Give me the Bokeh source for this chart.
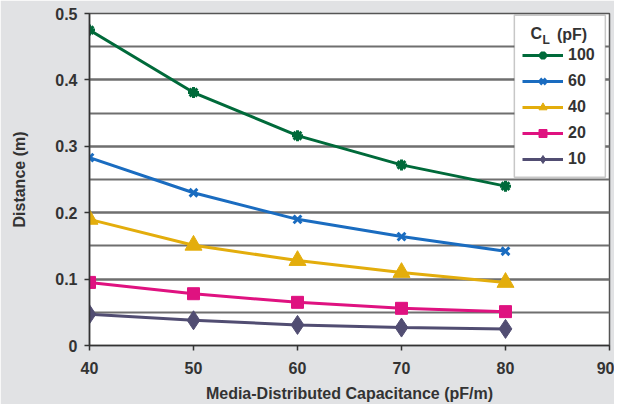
from bokeh.plotting import figure
from bokeh.models import Legend, LegendItem, BoxAnnotation, Range1d, FixedTicker
from bokeh.core.properties import value
from bokeh.embed import file_html
from bokeh.resources import INLINE

# Data
capacitance = [40, 50, 60, 70, 80]
series_labels = ["100", "60", "40", "20", "10"]
dist_100 = [0.475, 0.381, 0.316, 0.272, 0.240]
dist_60 = [0.283, 0.230, 0.190, 0.164, 0.142]
dist_40 = [0.190, 0.151, 0.128, 0.110, 0.095]
dist_20 = [0.095, 0.078, 0.065, 0.056, 0.051]
dist_10 = [0.047, 0.038, 0.031, 0.027, 0.025]
x_ticks = [40, 50, 60, 70, 80, 90]
y_ticks = [0, 0.1, 0.2, 0.3, 0.4, 0.5]
y_grid = [0, 0.05, 0.1, 0.15, 0.2, 0.25, 0.3, 0.35, 0.4, 0.45, 0.5]

FONT = "Liberation Sans"
TXT = "#333333"
BG = "#e1e2e4"

p = figure(width=614, height=404, output_backend="svg", toolbar_location=None,
           x_range=Range1d(40, 90), y_range=Range1d(0, 0.5),
           min_border_left=89, min_border_right=5, min_border_top=13, min_border_bottom=59)
p.background_fill_color = "white"
p.border_fill_color = BG
p.outline_line_color = "#555555"
p.outline_line_width = 1.5

p.xaxis.ticker = FixedTicker(ticks=x_ticks)
p.yaxis.ticker = FixedTicker(ticks=y_ticks, minor_ticks=y_grid)
p.xgrid.grid_line_color = None
p.ygrid.grid_line_color = "#6f6f6f"
p.ygrid.grid_line_width = 2
p.ygrid.minor_grid_line_color = "#6f6f6f"
p.ygrid.minor_grid_line_width = 2

for ax in (p.xaxis, p.yaxis):
    ax.axis_line_color = "#333333"
    ax.axis_line_width = 1.5
    ax.major_tick_line_color = "#333333"
    ax.major_tick_line_width = 1.5
    ax.major_tick_out = 5
    ax.major_tick_in = 0
    ax.minor_tick_line_color = None
    ax.major_label_text_font = FONT
    ax.major_label_text_font_style = "bold"
    ax.major_label_text_font_size = "16px"
    ax.major_label_text_color = TXT
    ax.axis_label_text_font = FONT
    ax.axis_label_text_font_style = "bold"
    ax.axis_label_text_font_size = "16px"
    ax.axis_label_text_color = TXT

p.xaxis.axis_label = "Media-Distributed Capacitance (pF/m)"
p.yaxis.axis_label = "Distance (m)"
p.xaxis.major_label_standoff = 11
p.xaxis.axis_label_standoff = 8
p.yaxis.major_label_standoff = 7
p.yaxis.axis_label_standoff = 24
p.yaxis.major_label_overrides = {0: "0"}

# Legend box (drawn beneath glyphs, above grid)
box = BoxAnnotation(left=80.85, right=89.6, top=0.4975, bottom=0.2535,
                    fill_color="white", fill_alpha=1,
                    line_color="#444444", line_width=1.5, level="underlay")
p.add_layout(box)

series = [
    (dist_100, "#006a3a", "asterisk", 11, 3),
    (dist_60, "#1a6cc0", "x", 11, 3),
    (dist_40, "#e3ad0c", "triangle", 17, 1),
    (dist_20, "#df1280", "square", 12, 1),
    (dist_10, "#514d72", "diamond", 19, 1),
]

items = []
for (vals, color, marker, size, mlw), label in zip(series, series_labels):
    ln = p.line(capacitance, vals, line_color=color, line_width=3)
    sc = p.scatter(capacitance, vals, marker=marker, size=size, fill_color=color,
                   line_color=color, line_width=mlw)
    items.append(LegendItem(label=label, renderers=[ln, sc]))

legend = Legend(items=items, location=(425, 168), margin=0,
                title=" ", title_text_font_size="16px", title_standoff=4,
                glyph_width=41, glyph_height=20, spacing=6, padding=8,
                label_standoff=5, label_text_font=FONT, label_text_font_style="bold",
                label_text_font_size="16px", label_text_color=TXT,
                border_line_alpha=0, background_fill_alpha=0)
p.add_layout(legend)

# Legend title C_L (pF) with subscript
title_text = ["C", "L", "(pF)"]
title_x = [82.40, 83.55, 84.95]
title_y = [0.4699, 0.4600, 0.4684]
title_size = ["16px", "12px", "16px"]
for t, tx, ty, fs in zip(title_text, title_x, title_y, title_size):
    p.text(x=[tx], y=[ty], text=[t], text_font=value(FONT), text_font_style="bold",
           text_font_size=fs, text_color=TXT, text_baseline="middle", text_align="left")

open("out.html", "w").write(file_html(p, INLINE))
